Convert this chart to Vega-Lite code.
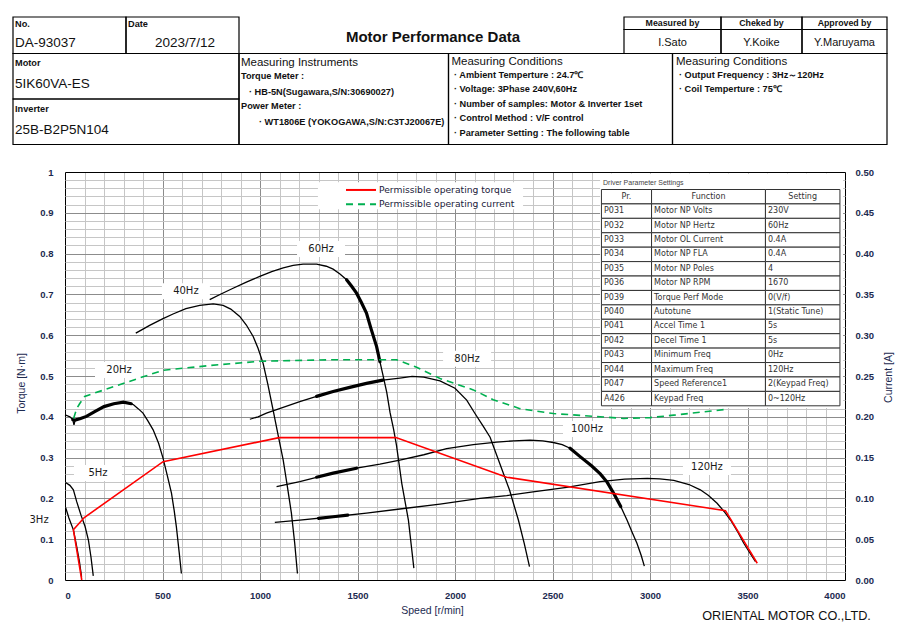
{
"$schema": "https://vega.github.io/schema/vega-lite/v6.json",
"width": 780,
"height": 408,
"autosize": {"type": "none"},
"padding": {"left": 65, "top": 172, "right": 65, "bottom": 52},
"background": "#ffffff",
"config": {
  "view": {"stroke": null},
  "font": "Liberation Sans",
  "axis": {"labelFont": "Liberation Sans", "labelFontWeight": "bold", "labelFontSize": 9.5, "labelColor": "#1c2a50", "titleFont": "Liberation Sans", "titleFontWeight": "normal", "titleFontSize": 10.5, "titleColor": "#1c2a50", "ticks": false, "domain": false, "grid": false}
},
"datasets": {
  "curves": [
    {"f":"3Hz","s":3,"t":0.178},{"f":"3Hz","s":20,"t":0.152},{"f":"3Hz","s":43,"t":0.123},{"f":"3Hz","s":60,"t":0.082},{"f":"3Hz","s":74,"t":0.045},{"f":"3Hz","s":85,"t":0.008},
    {"f":"5Hz","s":3,"t":0.239},{"f":"5Hz","s":25,"t":0.232},{"f":"5Hz","s":43,"t":0.221},{"f":"5Hz","s":60,"t":0.192},{"f":"5Hz","s":82,"t":0.159},{"f":"5Hz","s":103,"t":0.131},{"f":"5Hz","s":120,"t":0.098},{"f":"5Hz","s":133,"t":0.057},{"f":"5Hz","s":145,"t":0.01},
    {"f":"20Hz","s":0,"t":0.405},{"f":"20Hz","s":25,"t":0.4},{"f":"20Hz","s":40,"t":0.393},{"f":"20Hz","s":46,"t":0.38},{"f":"20Hz","s":52,"t":0.392},{"f":"20Hz","s":80,"t":0.396},{"f":"20Hz","s":110,"t":0.401},{"f":"20Hz","s":150,"t":0.412},{"f":"20Hz","s":200,"t":0.425},{"f":"20Hz","s":250,"t":0.432},{"f":"20Hz","s":300,"t":0.436},{"f":"20Hz","s":350,"t":0.43},{"f":"20Hz","s":375,"t":0.42},{"f":"20Hz","s":400,"t":0.409},{"f":"20Hz","s":425,"t":0.39},{"f":"20Hz","s":452,"t":0.368},{"f":"20Hz","s":480,"t":0.335},{"f":"20Hz","s":503,"t":0.298},{"f":"20Hz","s":525,"t":0.255},{"f":"20Hz","s":546,"t":0.213},{"f":"20Hz","s":560,"t":0.17},{"f":"20Hz","s":571,"t":0.131},{"f":"20Hz","s":585,"t":0.07},{"f":"20Hz","s":597,"t":0.016},
    {"f":"40Hz","s":363,"t":0.605},{"f":"40Hz","s":400,"t":0.615},{"f":"40Hz","s":434,"t":0.624},{"f":"40Hz","s":500,"t":0.64},{"f":"40Hz","s":554,"t":0.652},{"f":"40Hz","s":620,"t":0.665},{"f":"40Hz","s":691,"t":0.673},{"f":"40Hz","s":760,"t":0.677},{"f":"40Hz","s":811,"t":0.673},{"f":"40Hz","s":850,"t":0.664},{"f":"40Hz","s":896,"t":0.646},{"f":"40Hz","s":930,"t":0.625},{"f":"40Hz","s":965,"t":0.597},{"f":"40Hz","s":990,"t":0.568},{"f":"40Hz","s":1016,"t":0.531},{"f":"40Hz","s":1040,"t":0.48},{"f":"40Hz","s":1067,"t":0.417},{"f":"40Hz","s":1095,"t":0.35},{"f":"40Hz","s":1119,"t":0.294},{"f":"40Hz","s":1140,"t":0.23},{"f":"40Hz","s":1161,"t":0.164},{"f":"40Hz","s":1178,"t":0.09},{"f":"40Hz","s":1192,"t":0.016},
    {"f":"60Hz","s":742,"t":0.687},{"f":"60Hz","s":800,"t":0.701},{"f":"60Hz","s":862,"t":0.715},{"f":"60Hz","s":930,"t":0.73},{"f":"60Hz","s":999,"t":0.744},{"f":"60Hz","s":1060,"t":0.756},{"f":"60Hz","s":1119,"t":0.765},{"f":"60Hz","s":1170,"t":0.771},{"f":"60Hz","s":1221,"t":0.774},{"f":"60Hz","s":1290,"t":0.774},{"f":"60Hz","s":1340,"t":0.769},{"f":"60Hz","s":1375,"t":0.762},{"f":"60Hz","s":1410,"t":0.75},{"f":"60Hz","s":1444,"t":0.736},{"f":"60Hz","s":1470,"t":0.72},{"f":"60Hz","s":1495,"t":0.703},{"f":"60Hz","s":1520,"t":0.68},{"f":"60Hz","s":1546,"t":0.654},{"f":"60Hz","s":1570,"t":0.615},{"f":"60Hz","s":1598,"t":0.572},{"f":"60Hz","s":1615,"t":0.535},{"f":"60Hz","s":1632,"t":0.499},{"f":"60Hz","s":1650,"t":0.46},{"f":"60Hz","s":1667,"t":0.41},{"f":"60Hz","s":1685,"t":0.37},{"f":"60Hz","s":1700,"t":0.33},{"f":"60Hz","s":1727,"t":0.237},{"f":"60Hz","s":1761,"t":0.147},{"f":"60Hz","s":1789,"t":0.029},
    {"f":"80Hz","s":948,"t":0.394},{"f":"80Hz","s":990,"t":0.4},{"f":"80Hz","s":1033,"t":0.409},{"f":"80Hz","s":1100,"t":0.42},{"f":"80Hz","s":1204,"t":0.437},{"f":"80Hz","s":1290,"t":0.45},{"f":"80Hz","s":1375,"t":0.462},{"f":"80Hz","s":1460,"t":0.472},{"f":"80Hz","s":1546,"t":0.482},{"f":"80Hz","s":1630,"t":0.49},{"f":"80Hz","s":1717,"t":0.495},{"f":"80Hz","s":1780,"t":0.499},{"f":"80Hz","s":1840,"t":0.497},{"f":"80Hz","s":1923,"t":0.488},{"f":"80Hz","s":2000,"t":0.47},{"f":"80Hz","s":2060,"t":0.441},{"f":"80Hz","s":2100,"t":0.41},{"f":"80Hz","s":2146,"t":0.376},{"f":"80Hz","s":2180,"t":0.35},{"f":"80Hz","s":2230,"t":0.285},{"f":"80Hz","s":2280,"t":0.22},{"f":"80Hz","s":2325,"t":0.147},{"f":"80Hz","s":2355,"t":0.09},{"f":"80Hz","s":2382,"t":0.033},
    {"f":"100Hz","s":1085,"t":0.229},{"f":"100Hz","s":1204,"t":0.241},{"f":"100Hz","s":1375,"t":0.262},{"f":"100Hz","s":1495,"t":0.274},{"f":"100Hz","s":1615,"t":0.284},{"f":"100Hz","s":1717,"t":0.294},{"f":"100Hz","s":1840,"t":0.307},{"f":"100Hz","s":1957,"t":0.322},{"f":"100Hz","s":2094,"t":0.332},{"f":"100Hz","s":2214,"t":0.338},{"f":"100Hz","s":2300,"t":0.341},{"f":"100Hz","s":2385,"t":0.343},{"f":"100Hz","s":2450,"t":0.341},{"f":"100Hz","s":2504,"t":0.337},{"f":"100Hz","s":2550,"t":0.332},{"f":"100Hz","s":2590,"t":0.323},{"f":"100Hz","s":2640,"t":0.303},{"f":"100Hz","s":2700,"t":0.28},{"f":"100Hz","s":2745,"t":0.26},{"f":"100Hz","s":2780,"t":0.24},{"f":"100Hz","s":2813,"t":0.213},{"f":"100Hz","s":2850,"t":0.18},{"f":"100Hz","s":2882,"t":0.147},{"f":"100Hz","s":2910,"t":0.115},{"f":"100Hz","s":2933,"t":0.09},{"f":"100Hz","s":2955,"t":0.06},{"f":"100Hz","s":2971,"t":0.034},
    {"f":"120Hz","s":1076,"t":0.141},{"f":"120Hz","s":1204,"t":0.147},{"f":"120Hz","s":1375,"t":0.155},{"f":"120Hz","s":1546,"t":0.164},{"f":"120Hz","s":1717,"t":0.174},{"f":"120Hz","s":1923,"t":0.186},{"f":"120Hz","s":2128,"t":0.2},{"f":"120Hz","s":2265,"t":0.207},{"f":"120Hz","s":2400,"t":0.216},{"f":"120Hz","s":2573,"t":0.227},{"f":"120Hz","s":2744,"t":0.241},{"f":"120Hz","s":2870,"t":0.247},{"f":"120Hz","s":2986,"t":0.249},{"f":"120Hz","s":3050,"t":0.248},{"f":"120Hz","s":3122,"t":0.244},{"f":"120Hz","s":3200,"t":0.234},{"f":"120Hz","s":3258,"t":0.221},{"f":"120Hz","s":3300,"t":0.207},{"f":"120Hz","s":3344,"t":0.188},{"f":"120Hz","s":3380,"t":0.168},{"f":"120Hz","s":3413,"t":0.147},{"f":"120Hz","s":3450,"t":0.118},{"f":"120Hz","s":3481,"t":0.09},{"f":"120Hz","s":3510,"t":0.068},{"f":"120Hz","s":3541,"t":0.045}
  ],
  "noisy": [
    {"f":"20Hz","s":40,"t":0.393},{"f":"20Hz","s":52,"t":0.392},{"f":"20Hz","s":80,"t":0.396},{"f":"20Hz","s":110,"t":0.401},{"f":"20Hz","s":150,"t":0.412},{"f":"20Hz","s":200,"t":0.425},{"f":"20Hz","s":250,"t":0.432},{"f":"20Hz","s":300,"t":0.436},{"f":"20Hz","s":340,"t":0.432},
    {"f":"60Hz","s":1444,"t":0.736},{"f":"60Hz","s":1470,"t":0.72},{"f":"60Hz","s":1495,"t":0.703},{"f":"60Hz","s":1520,"t":0.68},{"f":"60Hz","s":1546,"t":0.654},{"f":"60Hz","s":1570,"t":0.615},{"f":"60Hz","s":1598,"t":0.572},{"f":"60Hz","s":1615,"t":0.535},
    {"f":"80Hz","s":1290,"t":0.45},{"f":"80Hz","s":1375,"t":0.462},{"f":"80Hz","s":1460,"t":0.472},{"f":"80Hz","s":1546,"t":0.482},{"f":"80Hz","s":1630,"t":0.49},
    {"f":"100Hz","s":1290,"t":0.252},{"f":"100Hz","s":1375,"t":0.262},{"f":"100Hz","s":1495,"t":0.274},
    {"f":"100Hz b","s":2590,"t":0.323},{"f":"100Hz b","s":2640,"t":0.303},{"f":"100Hz b","s":2700,"t":0.28},{"f":"100Hz b","s":2745,"t":0.26},{"f":"100Hz b","s":2780,"t":0.24},{"f":"100Hz b","s":2813,"t":0.213},{"f":"100Hz b","s":2850,"t":0.18},
    {"f":"120Hz","s":1300,"t":0.151},{"f":"120Hz","s":1375,"t":0.155},{"f":"120Hz","s":1450,"t":0.159}
  ],
  "torque": [
    {"i":0,"s":86,"t":0},{"i":1,"s":43,"t":0.123},{"i":2,"s":99,"t":0.153},{"i":3,"s":503,"t":0.29},{"i":4,"s":1098,"t":0.349},{"i":5,"s":1697,"t":0.349},{"i":6,"s":2265,"t":0.252},{"i":7,"s":3387,"t":0.17},{"i":8,"s":3550,"t":0.041}
  ],
  "current": [
    {"s":44,"a":0.198},{"s":60,"a":0.21},{"s":75,"a":0.216},{"s":101,"a":0.225},{"s":250,"a":0.237},{"s":400,"a":0.249},{"s":503,"a":0.257},{"s":750,"a":0.263},{"s":999,"a":0.268},{"s":1375,"a":0.27},{"s":1700,"a":0.27},{"s":1800,"a":0.261},{"s":1923,"a":0.247},{"s":2094,"a":0.233},{"s":2196,"a":0.221},{"s":2333,"a":0.21},{"s":2504,"a":0.204},{"s":2744,"a":0.2},{"s":2865,"a":0.198},{"s":3000,"a":0.199},{"s":3122,"a":0.202},{"s":3387,"a":0.209}
  ],
  "legend": [
    {"label":"Permissible operating torque","t":0.956},
    {"label":"Permissible operating current","t":0.9208}
  ],
  "hz": [
    {"f":"60Hz","s":1313,"t":0.811},{"f":"40Hz","s":620,"t":0.708},{"f":"20Hz","s":277,"t":0.515},{"f":"5Hz","s":169,"t":0.262},{"f":"80Hz","s":2062,"t":0.542},{"f":"100Hz","s":2677,"t":0.37},{"f":"120Hz","s":3292,"t":0.277},{"f":"3Hz","s":-133,"t":0.147}
  ],
  "params": [
    {"r":0,"pr":"","fn":"","st":""},
    {"r":1,"pr":"P031","fn":"Motor NP Volts","st":"230V"},
    {"r":2,"pr":"P032","fn":"Motor NP Hertz","st":"60Hz"},
    {"r":3,"pr":"P033","fn":"Motor OL Current","st":"0.4A"},
    {"r":4,"pr":"P034","fn":"Motor NP FLA","st":"0.4A"},
    {"r":5,"pr":"P035","fn":"Motor NP Poles","st":"4"},
    {"r":6,"pr":"P036","fn":"Motor NP RPM","st":"1670"},
    {"r":7,"pr":"P039","fn":"Torque Perf Mode","st":"0(V/f)"},
    {"r":8,"pr":"P040","fn":"Autotune","st":"1(Static Tune)"},
    {"r":9,"pr":"P041","fn":"Accel Time 1","st":"5s"},
    {"r":10,"pr":"P042","fn":"Decel Time 1","st":"5s"},
    {"r":11,"pr":"P043","fn":"Minimum Freq","st":"0Hz"},
    {"r":12,"pr":"P044","fn":"Maximum Freq","st":"120Hz"},
    {"r":13,"pr":"P047","fn":"Speed Reference1","st":"2(Keypad Freq)"},
    {"r":14,"pr":"A426","fn":"Keypad Freq","st":"0~120Hz"}
  ],
  "hcells": [
    {"x1":0,"x2":113,"y1":0,"y2":36.5},
    {"x1":113,"x2":226,"y1":0,"y2":36.5},
    {"x1":611,"x2":708,"y1":0,"y2":12.5},
    {"x1":708,"x2":789,"y1":0,"y2":12.5},
    {"x1":789,"x2":874,"y1":0,"y2":12.5},
    {"x1":611,"x2":708,"y1":12.5,"y2":36.5},
    {"x1":708,"x2":789,"y1":12.5,"y2":36.5},
    {"x1":789,"x2":874,"y1":12.5,"y2":36.5},
    {"x1":0,"x2":226,"y1":36.5,"y2":82},
    {"x1":0,"x2":226,"y1":82,"y2":127.5},
    {"x1":226,"x2":435.5,"y1":36.5,"y2":127.5},
    {"x1":435.5,"x2":659.5,"y1":36.5,"y2":127.5},
    {"x1":659.5,"x2":874,"y1":36.5,"y2":127.5}
  ],
  "htext": [
    {"k":"small","t":"No.","x":2,"y":10},
    {"k":"small","t":"Date","x":115,"y":10},
    {"k":"small","t":"Motor","x":2,"y":49},
    {"k":"small","t":"Inverter","x":2,"y":94.5},
    {"k":"small","t":"Torque Meter :","x":228,"y":62},
    {"k":"small","t":"· HB-5N(Sugawara,S/N:30690027)","x":236,"y":78},
    {"k":"small","t":"Power Meter :","x":228,"y":92},
    {"k":"small","t":"· WT1806E (YOKOGAWA,S/N:C3TJ20067E)","x":246,"y":108},
    {"k":"small","t":"· Ambient Temperture : 24.7℃","x":441,"y":61.3},
    {"k":"small","t":"· Voltage:  3Phase 240V,60Hz","x":441,"y":75.3},
    {"k":"small","t":"· Number of samples: Motor & Inverter 1set","x":441,"y":89.7},
    {"k":"small","t":"· Control Method : V/F control","x":441,"y":104},
    {"k":"small","t":"· Parameter Setting : The following table","x":441,"y":118.7},
    {"k":"small","t":"· Output Frequency : 3Hz～120Hz","x":666,"y":61.3},
    {"k":"small","t":"· Coil Temperture  : 75℃","x":666,"y":75.3},
    {"k":"role","t":"Measured by","x":659.5,"y":6.3},
    {"k":"role","t":"Cheked by","x":748.5,"y":6.3},
    {"k":"role","t":"Approved by","x":831.5,"y":6.3},
    {"k":"name","t":"I.Sato","x":659.5,"y":25.5},
    {"k":"name","t":"Y.Koike","x":748.5,"y":25.5},
    {"k":"name","t":"Y.Maruyama","x":831.5,"y":25.5},
    {"k":"value","t":"DA-93037","x":2,"y":30.3},
    {"k":"value","t":"2023/7/12","x":142,"y":30.3},
    {"k":"value","t":"5IK60VA-ES","x":2,"y":71.3},
    {"k":"value","t":"25B-B2P5N104","x":2,"y":117},
    {"k":"section","t":"Measuring Instruments","x":228,"y":48.7},
    {"k":"section","t":"Measuring Conditions","x":438.5,"y":48.3},
    {"k":"section","t":"Measuring Conditions","x":663,"y":48.3},
    {"k":"title","t":"Motor Performance Data","x":420,"y":24.5}
  ]
},
"resolve": {"scale": {"x": "independent", "y": "independent"}},
"layer": [
  {
    "data": {"values": [{}]},
    "mark": {"type": "rect", "fill": "#ffffff"},
    "encoding": {
      "x": {"datum": 2744, "type": "quantitative", "scale": {"domain": [0, 4000]}, "axis": null},
      "x2": {"datum": 3990},
      "y": {"datum": 0.4216, "type": "quantitative", "scale": {"domain": [0, 1]}, "axis": null},
      "y2": {"datum": 0.9963}
    }
  },
  {
    "data": {"values": [{}]},
    "mark": {"type": "rect", "fill": "#ffffff"},
    "encoding": {
      "x": {"datum": 1297, "type": "quantitative", "scale": {"domain": [0, 4000]}, "axis": null},
      "x2": {"datum": 2349},
      "y": {"datum": 0.909, "type": "quantitative", "scale": {"domain": [0, 1]}, "axis": null},
      "y2": {"datum": 0.975}
    }
  },
  {
    "data": {"name": "hz"},
    "transform": [{"filter": "datum.s > 0"}],
    "mark": {"type": "rect", "fill": "#ffffff", "width": 48, "height": 16},
    "encoding": {
      "x": {"field": "s", "type": "quantitative", "scale": {"domain": [0, 4000]}, "axis": null},
      "y": {"field": "t", "type": "quantitative", "scale": {"domain": [0, 1]}, "axis": null}
    }
  },
  {
    "data": {"name": "curves"},
    "mark": {"type": "line", "color": "#000000", "strokeWidth": 1.3},
    "encoding": {
      "x": {"field": "s", "type": "quantitative", "scale": {"domain": [0, 4000]},
        "axis": {"orient": "bottom", "values": [100,200,300,400,600,700,800,900,1100,1200,1300,1400,1600,1700,1800,1900,2100,2200,2300,2400,2600,2700,2800,2900,3100,3200,3300,3400,3600,3700,3800,3900], "grid": true, "gridColor": "#c6c6c6", "labels": false, "title": null}},
      "y": {"field": "t", "type": "quantitative", "scale": {"domain": [0, 1]},
        "axis": {"orient": "left", "values": [0.02,0.04,0.06,0.08,0.12,0.14,0.16,0.18,0.22,0.24,0.26,0.28,0.32,0.34,0.36,0.38,0.42,0.44,0.46,0.48,0.52,0.54,0.56,0.58,0.62,0.64,0.66,0.68,0.72,0.74,0.76,0.78,0.82,0.84,0.86,0.88,0.92,0.94,0.96,0.98], "grid": true, "gridColor": "#c6c6c6", "labels": false, "title": null}},
      "detail": {"field": "f"}
    }
  },
  {
    "data": {"name": "noisy"},
    "mark": {"type": "line", "color": "#000000", "strokeWidth": 3.2, "strokeCap": "round"},
    "encoding": {
      "x": {"field": "s", "type": "quantitative", "scale": {"domain": [0, 4000]}, "axis": null},
      "y": {"field": "t", "type": "quantitative", "scale": {"domain": [0, 1]}, "axis": null},
      "detail": {"field": "f"}
    }
  },
  {
    "data": {"name": "torque"},
    "mark": {"type": "line", "color": "#ff0000", "strokeWidth": 1.6},
    "encoding": {
      "x": {"field": "s", "type": "quantitative", "scale": {"domain": [0, 4000]},
        "axis": {"orient": "bottom", "values": [0,500,1000,1500,2000,2500,3000,3500,4000], "format": "d", "grid": true, "gridColor": {"condition": {"test": "datum.value == 0 || datum.value == 4000", "value": "#000000"}, "value": "#8c8c8c"}, "labelPadding": 10, "title": "Speed [r/min]", "titleX": 367, "titleY": 30, "titleBaseline": "middle"}},
      "y": {"field": "t", "type": "quantitative", "scale": {"domain": [0, 1]},
        "axis": {"orient": "left", "values": [0,0.1,0.2,0.3,0.4,0.5,0.6,0.7,0.8,0.9,1], "format": ".1~f", "grid": true, "gridColor": {"condition": {"test": "datum.value == 0 || datum.value == 1", "value": "#000000"}, "value": "#8c8c8c"}, "labelPadding": 12, "title": "Torque [N·m]", "titleX": -44, "titleY": 211, "titleBaseline": "middle"}},
      "order": {"field": "i"}
    }
  },
  {
    "data": {"name": "current"},
    "mark": {"type": "line", "color": "#00b050", "strokeWidth": 1.6, "strokeDash": [7, 5]},
    "encoding": {
      "x": {"field": "s", "type": "quantitative", "scale": {"domain": [0, 4000]}, "axis": null},
      "y": {"field": "a", "type": "quantitative", "scale": {"domain": [0, 0.5]},
        "axis": {"orient": "right", "values": [0,0.05,0.1,0.15,0.2,0.25,0.3,0.35,0.4,0.45,0.5], "format": ".2f", "labelPadding": 10, "title": "Current [A]", "titleAngle": 270, "titleX": 43, "titleY": 205, "titleBaseline": "middle"}}
    }
  },
  {
    "data": {"values": [{}]},
    "mark": {"type": "rule", "color": "#ff0000", "strokeWidth": 2},
    "encoding": {
      "x": {"datum": 1441, "type": "quantitative", "scale": {"domain": [0, 4000]}, "axis": null},
      "x2": {"datum": 1595},
      "y": {"datum": 0.956, "type": "quantitative", "scale": {"domain": [0, 1]}, "axis": null}
    }
  },
  {
    "data": {"values": [{}]},
    "mark": {"type": "rule", "color": "#00b050", "strokeWidth": 2, "strokeDash": [7, 5]},
    "encoding": {
      "x": {"datum": 1441, "type": "quantitative", "scale": {"domain": [0, 4000]}, "axis": null},
      "x2": {"datum": 1595},
      "y": {"datum": 0.9208, "type": "quantitative", "scale": {"domain": [0, 1]}, "axis": null}
    }
  },
  {
    "data": {"name": "legend"},
    "mark": {"type": "text", "font": "DejaVu Sans", "fontSize": 9.2, "color": "#1a1a3a", "align": "left", "baseline": "middle"},
    "encoding": {
      "x": {"datum": 1610, "type": "quantitative", "scale": {"domain": [0, 4000]}, "axis": null},
      "y": {"field": "t", "type": "quantitative", "scale": {"domain": [0, 1]}, "axis": null},
      "text": {"field": "label"}
    }
  },
  {
    "data": {"name": "hz"},
    "mark": {"type": "text", "font": "DejaVu Sans", "fontSize": 10, "color": "#1a1a1a", "align": "center", "baseline": "middle"},
    "encoding": {
      "x": {"field": "s", "type": "quantitative", "scale": {"domain": [0, 4000]}, "axis": null},
      "y": {"field": "t", "type": "quantitative", "scale": {"domain": [0, 1]}, "axis": null},
      "text": {"field": "f"}
    }
  },
  {
    "data": {"name": "params"},
    "mark": {"type": "rect", "fill": "#ffffff", "stroke": "#333333", "strokeWidth": 1},
    "encoding": {
      "x": {"datum": 2751, "type": "quantitative", "scale": {"domain": [0, 4000]}, "axis": null},
      "x2": {"datum": 3008},
      "y": {"field": "r", "type": "ordinal", "scale": {"type": "band", "domain": [0,1,2,3,4,5,6,7,8,9,10,11,12,13,14], "range": [17.5, 233.8], "paddingInner": 0, "paddingOuter": 0}, "axis": null}
    }
  },
  {
    "data": {"name": "params"},
    "mark": {"type": "rect", "fill": "#ffffff", "stroke": "#333333", "strokeWidth": 1},
    "encoding": {
      "x": {"datum": 3008, "type": "quantitative", "scale": {"domain": [0, 4000]}, "axis": null},
      "x2": {"datum": 3592},
      "y": {"field": "r", "type": "ordinal", "scale": {"type": "band", "domain": [0,1,2,3,4,5,6,7,8,9,10,11,12,13,14], "range": [17.5, 233.8], "paddingInner": 0, "paddingOuter": 0}, "axis": null}
    }
  },
  {
    "data": {"name": "params"},
    "mark": {"type": "rect", "fill": "#ffffff", "stroke": "#333333", "strokeWidth": 1},
    "encoding": {
      "x": {"datum": 3592, "type": "quantitative", "scale": {"domain": [0, 4000]}, "axis": null},
      "x2": {"datum": 3974},
      "y": {"field": "r", "type": "ordinal", "scale": {"type": "band", "domain": [0,1,2,3,4,5,6,7,8,9,10,11,12,13,14], "range": [17.5, 233.8], "paddingInner": 0, "paddingOuter": 0}, "axis": null}
    }
  },
  {
    "data": {"name": "params"},
    "mark": {"type": "text", "font": "DejaVu Sans", "fontSize": 8, "color": "#333333", "align": "left", "baseline": "middle"},
    "encoding": {
      "x": {"datum": 2764, "type": "quantitative", "scale": {"domain": [0, 4000]}, "axis": null},
      "y": {"field": "r", "type": "ordinal", "scale": {"type": "band", "domain": [0,1,2,3,4,5,6,7,8,9,10,11,12,13,14], "range": [17.5, 233.8], "paddingInner": 0, "paddingOuter": 0}, "axis": null},
      "text": {"field": "pr"}
    }
  },
  {
    "data": {"name": "params"},
    "mark": {"type": "text", "font": "DejaVu Sans", "fontSize": 8, "color": "#333333", "align": "left", "baseline": "middle"},
    "encoding": {
      "x": {"datum": 3021, "type": "quantitative", "scale": {"domain": [0, 4000]}, "axis": null},
      "y": {"field": "r", "type": "ordinal", "scale": {"type": "band", "domain": [0,1,2,3,4,5,6,7,8,9,10,11,12,13,14], "range": [17.5, 233.8], "paddingInner": 0, "paddingOuter": 0}, "axis": null},
      "text": {"field": "fn"}
    }
  },
  {
    "data": {"name": "params"},
    "mark": {"type": "text", "font": "DejaVu Sans", "fontSize": 8, "color": "#333333", "align": "left", "baseline": "middle"},
    "encoding": {
      "x": {"datum": 3605, "type": "quantitative", "scale": {"domain": [0, 4000]}, "axis": null},
      "y": {"field": "r", "type": "ordinal", "scale": {"type": "band", "domain": [0,1,2,3,4,5,6,7,8,9,10,11,12,13,14], "range": [17.5, 233.8], "paddingInner": 0, "paddingOuter": 0}, "axis": null},
      "text": {"field": "st"}
    }
  },
  {
    "data": {"values": [{"r": 0}]},
    "mark": {"type": "text", "font": "DejaVu Sans", "fontSize": 8, "color": "#333333", "align": "center", "baseline": "middle", "text": "Pr."},
    "encoding": {
      "x": {"datum": 2879, "type": "quantitative", "scale": {"domain": [0, 4000]}, "axis": null},
      "y": {"field": "r", "type": "ordinal", "scale": {"type": "band", "domain": [0,1,2,3,4,5,6,7,8,9,10,11,12,13,14], "range": [17.5, 233.8], "paddingInner": 0, "paddingOuter": 0}, "axis": null}
    }
  },
  {
    "data": {"values": [{"r": 0}]},
    "mark": {"type": "text", "font": "DejaVu Sans", "fontSize": 8, "color": "#333333", "align": "center", "baseline": "middle", "text": "Function"},
    "encoding": {
      "x": {"datum": 3300, "type": "quantitative", "scale": {"domain": [0, 4000]}, "axis": null},
      "y": {"field": "r", "type": "ordinal", "scale": {"type": "band", "domain": [0,1,2,3,4,5,6,7,8,9,10,11,12,13,14], "range": [17.5, 233.8], "paddingInner": 0, "paddingOuter": 0}, "axis": null}
    }
  },
  {
    "data": {"values": [{"r": 0}]},
    "mark": {"type": "text", "font": "DejaVu Sans", "fontSize": 8, "color": "#333333", "align": "center", "baseline": "middle", "text": "Setting"},
    "encoding": {
      "x": {"datum": 3783, "type": "quantitative", "scale": {"domain": [0, 4000]}, "axis": null},
      "y": {"field": "r", "type": "ordinal", "scale": {"type": "band", "domain": [0,1,2,3,4,5,6,7,8,9,10,11,12,13,14], "range": [17.5, 233.8], "paddingInner": 0, "paddingOuter": 0}, "axis": null}
    }
  },
  {
    "data": {"values": [{}]},
    "mark": {"type": "text", "font": "Liberation Sans", "fontSize": 7, "color": "#444444", "align": "left", "baseline": "middle", "text": "Driver Parameter Settings"},
    "encoding": {
      "x": {"datum": 2759, "type": "quantitative", "scale": {"domain": [0, 4000]}, "axis": null},
      "y": {"datum": 0.9738, "type": "quantitative", "scale": {"domain": [0, 1]}, "axis": null}
    }
  },
  {
    "data": {"name": "hcells"},
    "mark": {"type": "rect", "fill": "transparent", "stroke": "#000000", "strokeWidth": 1.2},
    "encoding": {
      "x": {"field": "x1", "type": "quantitative", "scale": {"domain": [52, 832]}, "axis": null},
      "x2": {"field": "x2"},
      "y": {"field": "y1", "type": "quantitative", "scale": {"domain": [155, 563], "reverse": true}, "axis": null},
      "y2": {"field": "y2"}
    }
  },
  {
    "data": {"name": "htext"},
    "transform": [{"filter": "datum.k == 'small'"}],
    "mark": {"type": "text", "font": "Liberation Sans", "fontSize": 9.2, "fontWeight": "bold", "color": "#111111", "align": "left", "baseline": "alphabetic"},
    "encoding": {
      "x": {"field": "x", "type": "quantitative", "scale": {"domain": [52, 832]}, "axis": null},
      "y": {"field": "y", "type": "quantitative", "scale": {"domain": [155, 563], "reverse": true}, "axis": null},
      "text": {"field": "t"}
    }
  },
  {
    "data": {"name": "htext"},
    "transform": [{"filter": "datum.k == 'role'"}],
    "mark": {"type": "text", "font": "Liberation Sans", "fontSize": 8.8, "fontWeight": "bold", "color": "#111111", "align": "center", "baseline": "middle"},
    "encoding": {
      "x": {"field": "x", "type": "quantitative", "scale": {"domain": [52, 832]}, "axis": null},
      "y": {"field": "y", "type": "quantitative", "scale": {"domain": [155, 563], "reverse": true}, "axis": null},
      "text": {"field": "t"}
    }
  },
  {
    "data": {"name": "htext"},
    "transform": [{"filter": "datum.k == 'name'"}],
    "mark": {"type": "text", "font": "Liberation Sans", "fontSize": 11, "color": "#111111", "align": "center", "baseline": "middle"},
    "encoding": {
      "x": {"field": "x", "type": "quantitative", "scale": {"domain": [52, 832]}, "axis": null},
      "y": {"field": "y", "type": "quantitative", "scale": {"domain": [155, 563], "reverse": true}, "axis": null},
      "text": {"field": "t"}
    }
  },
  {
    "data": {"name": "htext"},
    "transform": [{"filter": "datum.k == 'value'"}],
    "mark": {"type": "text", "font": "Liberation Sans", "fontSize": 13.5, "color": "#111111", "align": "left", "baseline": "alphabetic"},
    "encoding": {
      "x": {"field": "x", "type": "quantitative", "scale": {"domain": [52, 832]}, "axis": null},
      "y": {"field": "y", "type": "quantitative", "scale": {"domain": [155, 563], "reverse": true}, "axis": null},
      "text": {"field": "t"}
    }
  },
  {
    "data": {"name": "htext"},
    "transform": [{"filter": "datum.k == 'section'"}],
    "mark": {"type": "text", "font": "Liberation Sans", "fontSize": 11.5, "color": "#111111", "align": "left", "baseline": "alphabetic"},
    "encoding": {
      "x": {"field": "x", "type": "quantitative", "scale": {"domain": [52, 832]}, "axis": null},
      "y": {"field": "y", "type": "quantitative", "scale": {"domain": [155, 563], "reverse": true}, "axis": null},
      "text": {"field": "t"}
    }
  },
  {
    "data": {"name": "htext"},
    "transform": [{"filter": "datum.k == 'title'"}],
    "mark": {"type": "text", "font": "Liberation Sans", "fontSize": 15, "fontWeight": "bold", "color": "#111111", "align": "center", "baseline": "alphabetic"},
    "encoding": {
      "x": {"field": "x", "type": "quantitative", "scale": {"domain": [52, 832]}, "axis": null},
      "y": {"field": "y", "type": "quantitative", "scale": {"domain": [155, 563], "reverse": true}, "axis": null},
      "text": {"field": "t"}
    }
  },
  {
    "data": {"values": [{}]},
    "mark": {"type": "text", "font": "Liberation Sans", "fontSize": 12.7, "color": "#111111", "align": "center", "baseline": "middle", "text": "ORIENTAL MOTOR CO.,LTD."},
    "encoding": {
      "x": {"datum": 3700, "type": "quantitative", "scale": {"domain": [0, 4000]}, "axis": null},
      "y": {"datum": -0.088, "type": "quantitative", "scale": {"domain": [0, 1]}, "axis": null}
    }
  }
]
}
